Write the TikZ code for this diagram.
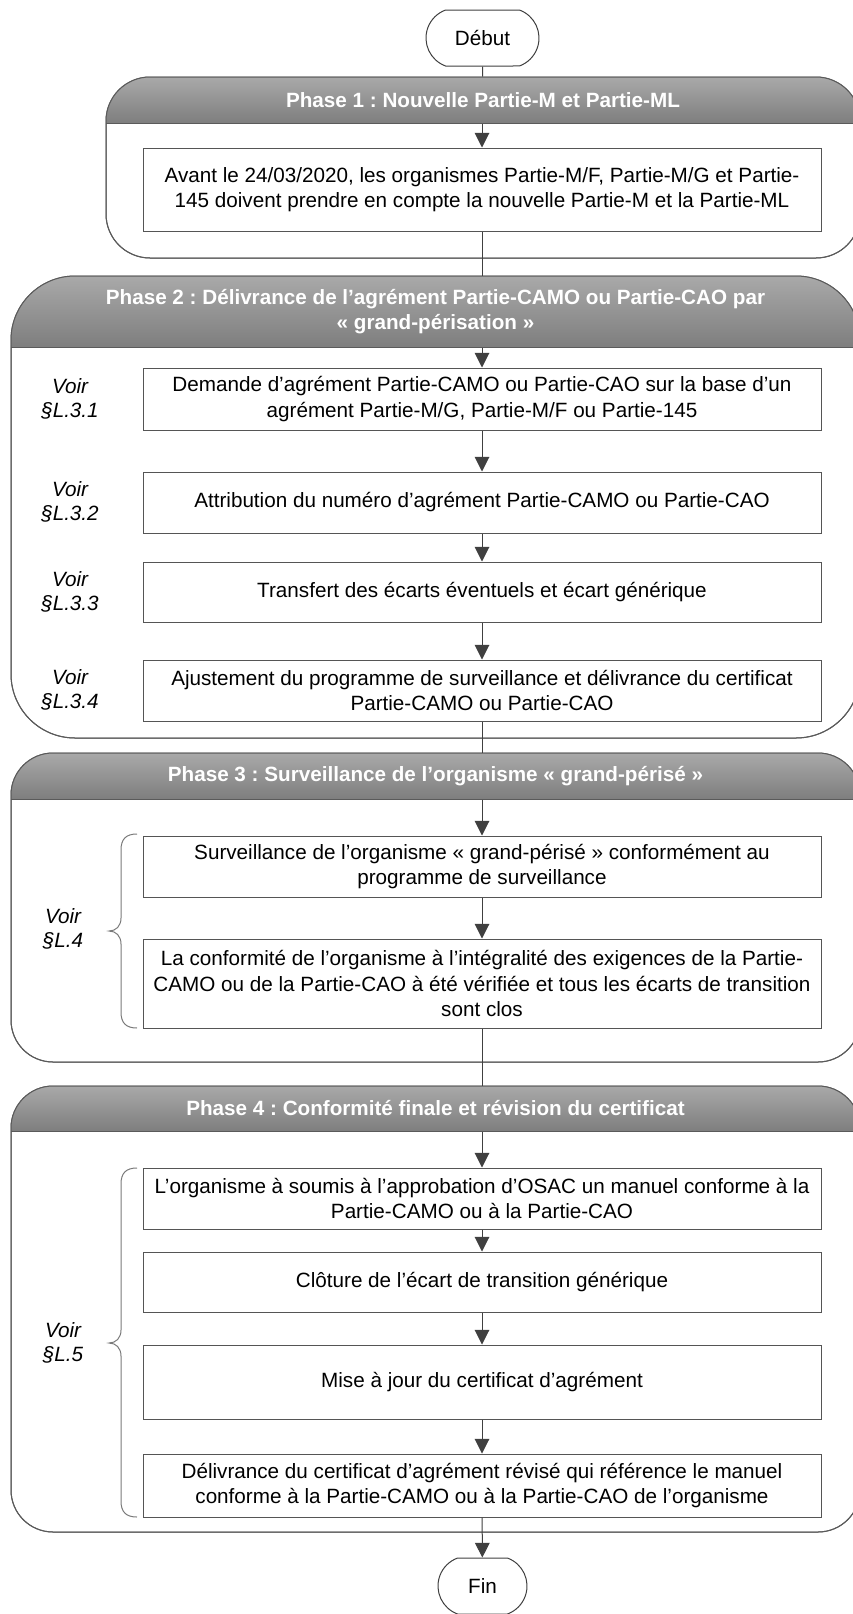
\documentclass[tikz,border=0pt]{standalone}
\usepackage{fontspec}
\setmainfont{Liberation Sans}
\usetikzlibrary{arrows.meta,shapes.misc}
\definecolor{linegray}{HTML}{404040}
\definecolor{boxgray}{HTML}{555555}
\definecolor{lanegray}{HTML}{5A5A5A}
\definecolor{hdrtop}{HTML}{A9A9A9}
\definecolor{hdrbot}{HTML}{7E7E7E}
\definecolor{bracegray}{HTML}{7A7A7A}
\newcommand{\flowfont}{\frenchspacing\fontsize{15.5pt}{19.2pt}\selectfont}

\begin{document}
\begin{tikzpicture}[x=0.75pt, y=-0.75pt, line width=0.75pt, >={Triangle[length=11pt,width=11pt]}]

\tikzstyle{stepbox}=[draw=boxgray, fill=white, minimum width=508.5pt, inner sep=0pt, align=center, font=\flowfont]
\tikzstyle{term}=[draw=linegray, fill=white, rounded rectangle, rounded rectangle arc length=140, minimum height=42pt, inner sep=0pt, font=\flowfont]
\tikzstyle{hdrtext}=[text=white, inner sep=0pt, align=center, font=\flowfont\bfseries]
\tikzstyle{voir}=[inner sep=0pt, align=center, font=\fontsize{15.5pt}{17.5pt}\selectfont\itshape]
\tikzstyle{flow}=[draw=linegray, ->]
\tikzstyle{link}=[draw=linegray]

\useasboundingbox (0,0) rectangle (853,1614);
\clip (0,0) rectangle (853,1614);

% phase lanes: left, top, header bottom, bottom, corner radius
\foreach \xl/\yt/\yh/\yb/\rr in {106/77/123/258/33, 11/276/347/738/48, 11/753/799/1062/31.5, 11/1086/1131/1532/31.5}{
  \draw[lanegray, fill=white, rounded corners=\rr pt] (\xl,\yt) rectangle (860,\yb);
  \begin{scope}
    \clip[rounded corners=\rr pt] (\xl,\yt) rectangle (860,\yb);
    \shade[top color=hdrtop, bottom color=hdrbot] (\xl,\yt) rectangle (860,\yh);
  \end{scope}
  \draw[lanegray] (\xl,\yh) -- (860,\yh);
  \draw[lanegray, rounded corners=\rr pt] (\xl,\yt) rectangle (860,\yb);
}

% headers
\node[hdrtext, minimum width=565.5pt, minimum height=34.5pt] (hdrA) at (483,100) {Phase 1 : Nouvelle Partie-M et Partie-ML};
\node[hdrtext, minimum width=636.75pt, minimum height=53.25pt] (hdrB) at (435.5,311.5) {Phase 2 : Délivrance de l’agrément Partie-CAMO ou Partie-CAO par\\« grand-périsation »};
\node[hdrtext, minimum width=636.75pt, minimum height=34.5pt] (hdrC) at (435.5,776) {Phase 3 : Surveillance de l’organisme « grand-périsé »};
\node[hdrtext, minimum width=636.75pt, minimum height=33.75pt] (hdrD) at (435.5,1108.5) {Phase 4 : Conformité finale et révision du certificat};

% start and end
\node[term, minimum width=84.75pt] (debut) at (482.5,38) {Début};
\node[term, minimum width=66.75pt] (fin) at (482.5,1586) {Fin};

% steps
\node[stepbox, minimum height=62.25pt] (boxA) at (482,189.5) {Avant le 24/03/2020, les organismes Partie-M/F, Partie-M/G et Partie-\\145 doivent prendre en compte la nouvelle Partie-M et la Partie-ML};

\node[stepbox, minimum height=46.5pt] (boxB1) at (482,399) {Demande d’agrément Partie-CAMO ou Partie-CAO sur la base d’un\\agrément Partie-M/G, Partie-M/F ou Partie-145};
\node[stepbox, minimum height=45.75pt] (boxB2) at (482,502.5) {Attribution du numéro d’agrément Partie-CAMO ou Partie-CAO};
\node[stepbox, minimum height=45pt] (boxB3) at (482,592) {Transfert des écarts éventuels et écart générique};
\node[stepbox, minimum height=45.75pt] (boxB4) at (482,690.5) {Ajustement du programme de surveillance et délivrance du certificat\\Partie-CAMO ou Partie-CAO};

\node[stepbox, minimum height=45.75pt] (boxC1) at (482,866.5) {Surveillance de l’organisme « grand-périsé » conformément au\\programme de surveillance};
\node[stepbox, minimum height=66.75pt] (boxC2) at (482,983.5) {La conformité de l’organisme à l’intégralité des exigences de la Partie-\\CAMO ou de la Partie-CAO à été vérifiée et tous les écarts de transition\\sont clos};

\node[stepbox, minimum height=45.75pt] (boxD1) at (482,1198.5) {L’organisme à soumis à l’approbation d’OSAC un manuel conforme à la\\Partie-CAMO ou à la Partie-CAO};
\node[stepbox, minimum height=45pt] (boxD2) at (482,1282) {Clôture de l’écart de transition générique};
\node[stepbox, minimum height=55.5pt] (boxD3) at (482,1382) {Mise à jour du certificat d’agrément};
\node[stepbox, minimum height=47.25pt] (boxD4) at (482,1485.5) {Délivrance du certificat d’agrément révisé qui référence le manuel\\conforme à la Partie-CAMO ou à la Partie-CAO de l’organisme};

% references
\node[voir] (voirB1) at (70,399) {Voir\\§L.3.1};
\node[voir] (voirB2) at (70,502) {Voir\\§L.3.2};
\node[voir] (voirB3) at (70,592) {Voir\\§L.3.3};
\node[voir] (voirB4) at (70,690) {Voir\\§L.3.4};
\node[voir] (voirC) at (63,929) {Voir\\§L.4};
\node[voir] (voirD) at (63,1343) {Voir\\§L.5};

% braces
\draw[bracegray] (137,834) .. controls (126,834) and (121,839) .. (121,850) -- (121,918)
  .. controls (121,926) and (116,931) .. (109,931) .. controls (116,931) and (121,936) .. (121,944)
  -- (121,1012) .. controls (121,1023) and (126,1028) .. (137,1028);
\draw[bracegray] (137,1168) .. controls (126,1168) and (121,1173) .. (121,1184) -- (121,1330)
  .. controls (121,1338) and (116,1343) .. (109,1343) .. controls (116,1343) and (121,1348) .. (121,1356)
  -- (121,1501) .. controls (121,1512) and (126,1517) .. (137,1517);

% connectors
\draw[link] (debut) -- (debut |- hdrA.north);
\draw[flow] (hdrA.south -| boxA) -- (boxA);
\draw[link] (boxA) -- (boxA |- hdrB.north);
\draw[flow] (hdrB.south -| boxB1) -- (boxB1);
\draw[flow] (boxB1) -- (boxB2);
\draw[flow] (boxB2) -- (boxB3);
\draw[flow] (boxB3) -- (boxB4);
\draw[link] (boxB4) -- (boxB4 |- hdrC.north);
\draw[flow] (hdrC.south -| boxC1) -- (boxC1);
\draw[flow] (boxC1) -- (boxC2);
\draw[link] (boxC2) -- (boxC2 |- hdrD.north);
\draw[flow] (hdrD.south -| boxD1) -- (boxD1);
\draw[flow] (boxD1) -- (boxD2);
\draw[flow] (boxD2) -- (boxD3);
\draw[flow] (boxD3) -- (boxD4);
\draw[flow] (boxD4) -- (fin);

\end{tikzpicture}
\end{document}
